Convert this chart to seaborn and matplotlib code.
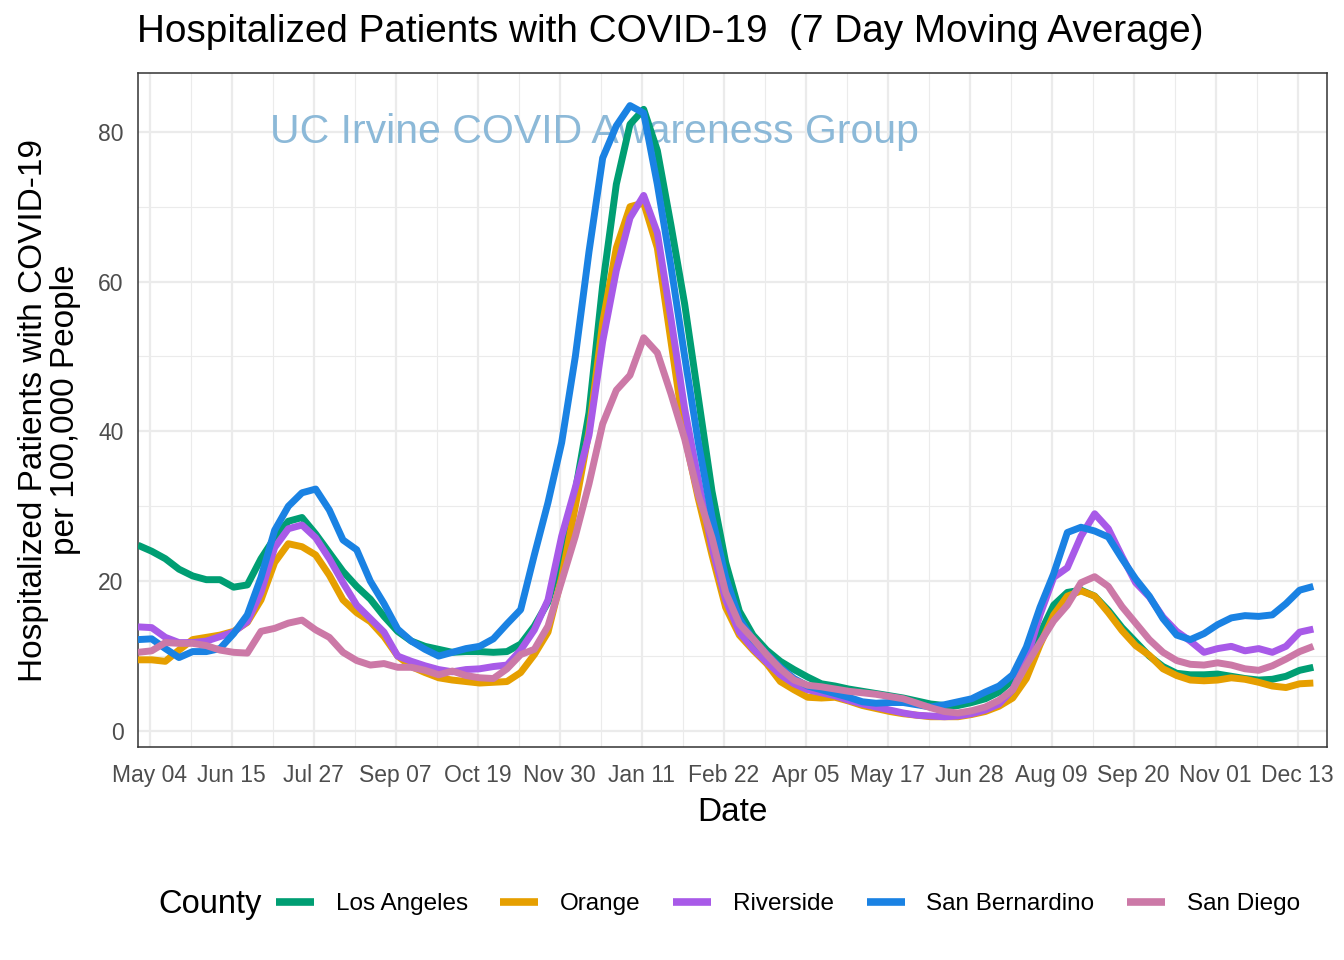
import numpy as np
import pandas as pd
import matplotlib
matplotlib.use("Agg")
import matplotlib.pyplot as plt
import seaborn as sns

# ---- data (weekly samples) ----
start_date = "2020-04-28"
n_weeks = 87

los_angeles = [24.8, 24.0, 23.0, 21.6, 20.7, 20.2, 20.2, 19.2, 19.5, 23.0,
               25.8, 28.0, 28.5, 26.3, 23.8, 21.3, 19.3, 17.6, 15.3, 13.3,
               12.0, 11.3, 10.9, 10.5, 10.6, 10.6, 10.5, 10.6, 11.6, 14.0,
               17.2, 23.5, 32.0, 42.5, 59.5, 73.0, 81.0, 83.0, 77.5, 67.5,
               57.0, 44.5, 32.0, 22.5, 16.0, 12.8, 10.8, 9.3, 8.2, 7.2,
               6.3, 6.0, 5.6, 5.3, 5.0, 4.7, 4.4, 4.0, 3.6, 3.4,
               3.4, 3.8, 4.3, 5.2, 6.8, 9.5, 13.0, 16.8, 18.5, 18.8,
               18.0, 16.1, 13.8, 11.9, 10.0, 8.6, 7.7, 7.5, 7.5, 7.6,
               7.3, 7.0, 6.8, 6.9, 7.3, 8.1, 8.5]

orange = [9.5, 9.5, 9.3, 10.8, 12.2, 12.5, 12.8, 13.3, 14.5, 17.5,
          22.5, 25.0, 24.6, 23.5, 20.8, 17.5, 15.8, 14.6, 12.6, 10.0,
          8.6, 7.8, 7.1, 6.8, 6.6, 6.4, 6.5, 6.6, 7.8, 10.2,
          13.2, 20.5, 30.0, 40.0, 54.5, 64.5, 70.0, 70.5, 64.5, 52.0,
          39.5, 31.0, 23.5, 16.5, 12.8, 10.8, 9.0, 6.6, 5.5, 4.5,
          4.4, 4.5, 4.0, 3.4, 3.0, 2.6, 2.3, 2.1, 1.9, 1.9,
          1.9, 2.2, 2.6, 3.3, 4.4, 7.0, 11.5, 15.5, 18.0, 18.7,
          18.0, 15.8, 13.4, 11.4, 10.1, 8.3, 7.4, 6.8, 6.7, 6.8,
          7.1, 6.9, 6.5, 6.0, 5.8, 6.3, 6.4]

riverside = [13.9, 13.8, 12.5, 11.8, 11.8, 12.0, 12.6, 13.2, 14.6, 18.5,
             24.5, 27.0, 27.5, 25.8, 23.0, 19.8, 16.8, 15.0, 13.2, 10.0,
             9.3, 8.7, 8.2, 7.9, 8.2, 8.3, 8.6, 8.8, 10.8, 13.5,
             17.5, 26.0, 32.5, 39.5, 52.0, 61.5, 68.5, 71.5, 66.5, 55.0,
             43.0, 33.5, 24.5, 17.5, 13.2, 11.0, 9.2, 7.5, 6.3, 5.5,
             5.1, 4.7, 4.1, 3.6, 3.2, 2.8, 2.4, 2.1, 2.0, 1.9,
             2.0, 2.3, 2.8, 3.6, 5.5, 9.5, 15.5, 20.5, 21.8, 26.0,
             29.0, 27.0, 23.3, 19.8, 17.9, 15.2, 13.3, 12.0, 10.5, 11.0,
             11.3, 10.7, 11.0, 10.5, 11.3, 13.2, 13.6]

san_bernardino = [12.2, 12.3, 11.0, 9.8, 10.6, 10.6, 11.0, 13.0, 15.5, 20.5,
                  26.8, 30.0, 31.8, 32.3, 29.5, 25.5, 24.2, 20.0, 17.0, 13.6,
                  12.0, 10.9, 10.0, 10.5, 11.0, 11.3, 12.3, 14.3, 16.2, 23.5,
                  30.5, 38.5, 50.0, 64.0, 76.5, 80.8, 83.5, 82.5, 73.0, 62.0,
                  50.0, 38.5, 28.6, 20.5, 15.0, 12.2, 10.3, 8.5, 7.0, 6.0,
                  5.5, 5.0, 4.5, 3.9, 3.7, 3.8, 3.8, 3.5, 3.2, 3.5,
                  3.9, 4.3, 5.2, 6.0, 7.5, 11.2, 16.5, 21.0, 26.5, 27.2,
                  26.7, 25.9, 23.0, 20.3, 18.0, 15.0, 12.8, 12.2, 13.0, 14.2,
                  15.1, 15.4, 15.3, 15.5, 17.0, 18.8, 19.3]

san_diego = [10.5, 10.7, 11.8, 11.7, 11.7, 11.4, 10.8, 10.5, 10.4, 13.3,
             13.7, 14.4, 14.8, 13.5, 12.5, 10.5, 9.4, 8.8, 9.0, 8.5,
             8.5, 8.1, 7.5, 8.0, 7.4, 7.1, 7.0, 8.3, 10.2, 10.9,
             14.0, 20.0, 26.0, 33.0, 41.0, 45.5, 47.5, 52.5, 50.5, 45.0,
             39.0, 31.5, 25.8, 18.5, 14.3, 12.3, 10.2, 8.3, 6.8, 6.1,
             5.9, 5.6, 5.3, 5.1, 4.9, 4.6, 4.3, 3.7, 3.1, 2.6,
             2.4, 2.7, 3.2, 4.1, 5.5, 8.8, 11.8, 14.7, 16.8, 19.8,
             20.6, 19.3, 16.6, 14.4, 12.2, 10.5, 9.4, 8.9, 8.8, 9.1,
             8.8, 8.3, 8.1, 8.7, 9.6, 10.6, 11.3]

counties = ["Los Angeles", "Orange", "Riverside", "San Bernardino", "San Diego"]
colors = ["#009E73", "#E69F00", "#A85AE8", "#1A82E3", "#CC79A7"]
tick_dates = ["2020-05-04", "2020-06-15", "2020-07-27", "2020-09-07", "2020-10-19",
              "2020-11-30", "2021-01-11", "2021-02-22", "2021-04-05", "2021-05-17",
              "2021-06-28", "2021-08-09", "2021-09-20", "2021-11-01", "2021-12-13"]
tick_labels = ["May 04", "Jun 15", "Jul 27", "Sep 07", "Oct 19", "Nov 30", "Jan 11",
               "Feb 22", "Apr 05", "May 17", "Jun 28", "Aug 09", "Sep 20", "Nov 01", "Dec 13"]
y_ticks = [0, 20, 40, 60, 80]

title = "Hospitalized Patients with COVID-19  (7 Day Moving Average)"
watermark = "UC Irvine COVID Awareness Group"

# ---- build long frame ----
dates = pd.date_range(start_date, periods=n_weeks, freq="7D")
series = [los_angeles, orange, riverside, san_bernardino, san_diego]
df = pd.concat([pd.DataFrame({"Date": dates, "value": v, "County": c})
                for c, v in zip(counties, series)], ignore_index=True)

sns.set_theme(style="white")
plt.rcParams["font.family"] = ["Liberation Sans", "DejaVu Sans"]
plt.rcParams["text.color"] = "black"
plt.rcParams["axes.labelcolor"] = "black"

fig = plt.figure(figsize=(13.44, 9.6), dpi=100)
ax = fig.add_axes([138 / 1344, 1 - 747 / 960, (1327 - 138) / 1344, (747 - 73) / 960])

ax.text(0.111, 0.912, watermark, transform=ax.transAxes, fontsize=29.5,
        color="#8CB9D8", ha="left", va="center", zorder=1)

sns.lineplot(data=df, x="Date", y="value", hue="County", hue_order=counties,
             palette=colors, linewidth=5.0, ax=ax, zorder=3, estimator=None,
             solid_joinstyle="round", solid_capstyle="butt")

ax.set_xlim(pd.Timestamp("2020-04-28"), pd.Timestamp("2021-12-28"))
ax.set_ylim(-2.14, 87.85)

tks = pd.to_datetime(tick_dates)
ax.set_xticks(tks)
ax.set_xticklabels(tick_labels)
minor_x = tks[:-1] + pd.Timedelta(days=21)
ax.set_xticks(minor_x, minor=True)
ax.set_yticks(y_ticks)
ax.set_yticks([10, 30, 50, 70], minor=True)

ax.grid(True, which="major", color="#EBEBEB", linewidth=1.6, zorder=0)
ax.grid(True, which="minor", color="#EBEBEB", linewidth=0.8, zorder=0)
ax.set_axisbelow(True)
for s in ax.spines.values():
    s.set_color("#333333")
    s.set_linewidth(1.1)

ax.tick_params(axis="x", which="major", length=4.5, width=1.1, color="#333333",
               labelsize=16.5, labelcolor="#4D4D4D", pad=8)
ax.tick_params(axis="y", which="major", length=4.5, width=1.1, color="#333333",
               labelsize=16.5, labelcolor="#4D4D4D", pad=6)
ax.tick_params(axis="both", which="minor", length=0)

ax.set_xlabel("Date", fontsize=24, color="black", labelpad=7)
ax.set_ylabel("Hospitalized Patients with COVID-19\nper 100,000 People",
              fontsize=24, color="black", labelpad=12, linespacing=1.05)

fig.text(137 / 1344, 1 - 32 / 960, title, fontsize=27.9, ha="left", va="center",
         color="black")

handles, labels = ax.get_legend_handles_labels()
ax.get_legend().remove()
for h in handles:
    h.set_linewidth(5.5)
fig.text(158 / 1344, 1 - 904 / 960, "County", fontsize=23.5, ha="left", va="center",
         color="black")
fig.legend(handles, labels, loc="center", bbox_to_anchor=(788 / 1344, 1 - 904 / 960),
           ncol=5, frameon=False, fontsize=17.5, handlelength=1.55, handletextpad=0.9,
           columnspacing=1.35)

fig.savefig("out.png", dpi=100)
